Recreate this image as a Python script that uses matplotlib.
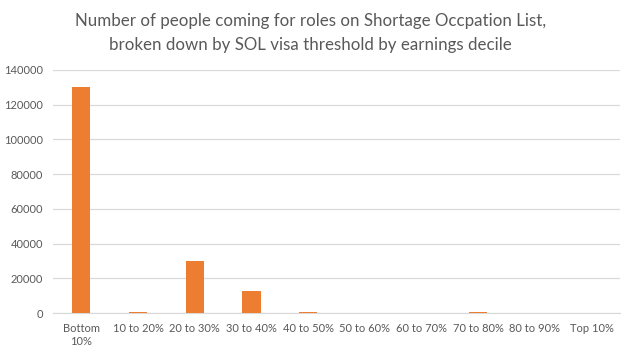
import matplotlib
matplotlib.use("Agg")
import matplotlib.pyplot as plt

categories = ["Bottom\n10%", "10 to 20%", "20 to 30%", "30 to 40%", "40 to 50%",
              "50 to 60%", "60 to 70%", "70 to 80%", "80 to 90%", "Top 10%"]
values = [130000, 700, 30000, 12700, 700, 0, 0, 700, 0, 0]
yticks = [0, 20000, 40000, 60000, 80000, 100000, 120000, 140000]

plt.rcParams['font.family'] = ['Lato', 'DejaVu Sans']
fig = plt.figure(figsize=(6.29, 3.57), dpi=100)
ax = fig.add_axes([0.0843, 0.1232, 0.9014, 0.6808])
x = list(range(len(categories)))
ax.bar(x, values, width=0.32, color="#ED7D31", zorder=3)
ax.set_xlim(-0.5, len(categories) - 0.5)
ax.set_ylim(0, 140000)
ax.set_yticks(yticks)
ax.set_yticklabels([str(v) for v in yticks])
ax.set_xticks(x)
ax.set_xticklabels(categories)
ax.grid(axis="y", color="#D9D9D9", linewidth=0.9, zorder=0)
for s in ["top", "right", "left"]:
    ax.spines[s].set_visible(False)
ax.spines["bottom"].set_color("#D9D9D9")
ax.tick_params(axis="both", length=0, colors="#595959", labelsize=8)
ax.tick_params(axis="x", pad=7)
ax.tick_params(axis="y", pad=7)
fig.text(0.493, 0.908, "Number of people coming for roles on Shortage Occpation List,\nbroken down by SOL visa threshold by earnings decile",
         ha="center", va="center", fontsize=12.2, color="#595959", linespacing=1.6)
fig.savefig("out.png", dpi=100)
